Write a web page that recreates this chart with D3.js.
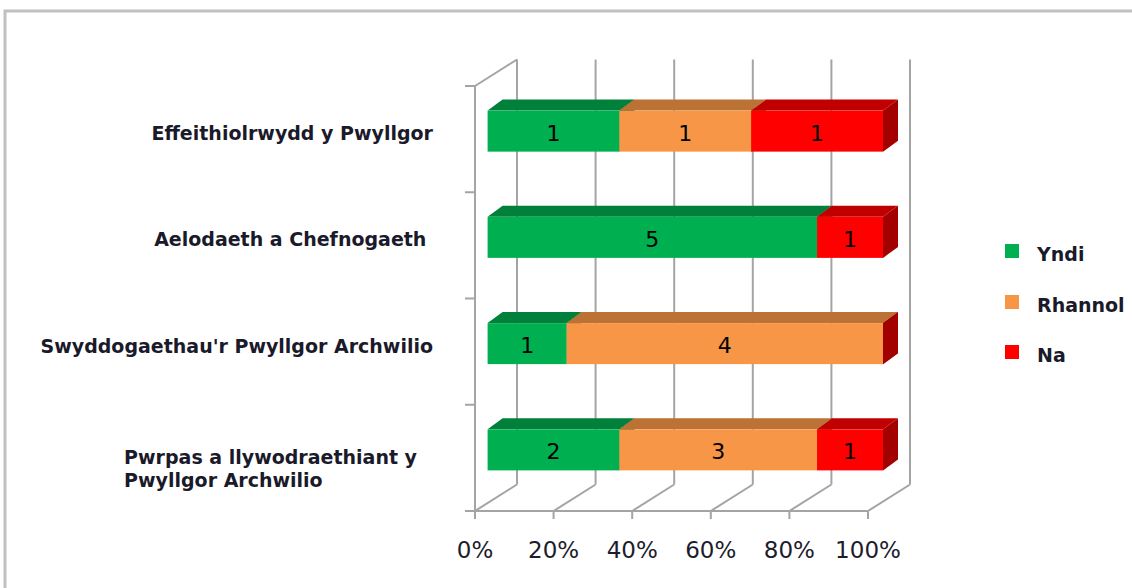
<!DOCTYPE html>
<html>
<head>
<meta charset="utf-8">
<script src="https://cdn.jsdelivr.net/npm/d3@7"></script>
<style>
  html, body { margin: 0; padding: 0; background: #fff; }
  svg { display: block; font-family: "DejaVu Sans", Verdana, sans-serif; }
</style>
</head>
<body>
<div id="chart"></div>
<script>
// Categories, top to bottom (each entry is the list of label lines)
const categories = [
  ["Effeithiolrwydd y Pwyllgor"],
  ["Aelodaeth a Chefnogaeth "],
  ["Swyddogaethau'r Pwyllgor Archwilio"],
  ["Pwrpas a llywodraethiant y", "Pwyllgor Archwilio"]
];
const seriesNames = ["Yndi", "Rhannol", "Na"];
const yndi = [1, 5, 1, 2];
const rhannol = [1, 0, 4, 3];
const na = [1, 1, 0, 1];
const tickValues = [0, 0.2, 0.4, 0.6, 0.8, 1];

const W = 1132, H = 588;

// colours: front, top, side
const colFront = ["#00B050", "#F79646", "#FF0000"];
const colTop = ["#00803A", "#BC7235", "#C00000"];
const colSide = ["#006A2F", "#A4602A", "#A30000"];

const svg = d3.select("#chart").append("svg")
  .attr("width", W).attr("height", H);

// chart frame
svg.append("rect")
  .attr("x", 5).attr("y", 11)
  .attr("width", W + 40).attr("height", H + 40)
  .attr("fill", "#fff")
  .attr("stroke", "#C0C0C0").attr("stroke-width", 3);

// 3D frame geometry
const floorY = 511, wallTop = 86;
const depth = { dx: 42, dy: -26.5 };
const x = d3.scaleLinear().domain([0, 1]).range([475, 868]);
const keys = categories.map((c, i) => i);
const y = d3.scaleBand().domain(keys).range([wallTop, floorY])
  .paddingInner(0.614).paddingOuter(0.307);

// bars sit a little back from the front plane
const barShift = { dx: 12.6, dy: -8 };
const barX = d3.scaleLinear().domain([0, 1]).range([475 + barShift.dx, 883]);
const barDepth = { dx: 15, dy: -11 };

const gridColor = "#A4A4A4";
const grid = svg.append("g").attr("stroke", gridColor).attr("stroke-width", 2).attr("fill", "none");

// back wall verticals and floor depth lines
tickValues.forEach(t => {
  const fx = x(t);
  const bx = fx + depth.dx;
  grid.append("line").attr("x1", bx).attr("y1", wallTop + depth.dy).attr("x2", bx).attr("y2", floorY + depth.dy);
  grid.append("line").attr("x1", fx).attr("y1", floorY).attr("x2", bx).attr("y2", floorY + depth.dy);
  // tick under the floor edge
  grid.append("line").attr("x1", fx).attr("y1", floorY).attr("x2", fx).attr("y2", floorY + 8);
});
// floor front edge
grid.append("line").attr("x1", x(0)).attr("y1", floorY).attr("x2", x(1)).attr("y2", floorY);
// left wall
grid.append("line").attr("x1", x(0)).attr("y1", wallTop).attr("x2", x(0)).attr("y2", floorY);
grid.append("line").attr("x1", x(0)).attr("y1", wallTop).attr("x2", x(0) + depth.dx).attr("y2", wallTop + depth.dy);
// category ticks on the left wall
const step = y.step();
d3.range(categories.length + 1).forEach(i => {
  const ty = wallTop + i * step;
  grid.append("line").attr("x1", x(0) - 10).attr("y1", ty).attr("x2", x(0)).attr("y2", ty);
});

// x tick labels
svg.append("g").selectAll("text").data(tickValues).join("text")
  .attr("x", d => x(d)).attr("y", 550)
  .attr("text-anchor", "middle").attr("dominant-baseline", "central")
  .attr("font-size", 23).attr("fill", "#1c1c2c")
  .text(d => d3.format(".0%")(d));

// stacked bars
const rows = keys.map(i => {
  const vals = [yndi[i], rhannol[i], na[i]];
  const total = d3.sum(vals);
  let acc = 0;
  return vals.map((v, s) => {
    const seg = { row: i, s, v, x0: acc / total, x1: (acc + v) / total };
    acc += v;
    return seg;
  });
});

const bars = svg.append("g");
rows.forEach(segs => {
  segs.forEach(seg => {
    const x0 = barX(seg.x0), x1 = barX(seg.x1);
    const top = y(seg.row) + barShift.dy, bot = top + y.bandwidth();
    const g = bars.append("g");
    // right face
    g.append("path")
      .attr("d", `M${x1},${top}L${x1 + barDepth.dx},${top + barDepth.dy}L${x1 + barDepth.dx},${bot + barDepth.dy}L${x1},${bot}Z`)
      .attr("fill", colSide[seg.s]);
    if (seg.v > 0) {
      // top face
      g.append("path")
        .attr("d", `M${x0},${top}L${x0 + barDepth.dx},${top + barDepth.dy}L${x1 + barDepth.dx},${top + barDepth.dy}L${x1},${top}Z`)
        .attr("fill", colTop[seg.s]);
      // front face
      g.append("rect")
        .attr("x", x0).attr("y", top)
        .attr("width", x1 - x0).attr("height", y.bandwidth())
        .attr("fill", colFront[seg.s]);
    }
  });
});

// data labels
svg.append("g").selectAll("text")
  .data(rows.flat().filter(d => d.v > 0)).join("text")
  .attr("x", d => (barX(d.x0) + barX(d.x1)) / 2)
  .attr("y", d => y(d.row) + barShift.dy + y.bandwidth() / 2 + 2)
  .attr("text-anchor", "middle").attr("dominant-baseline", "central")
  .attr("font-size", 22).attr("fill", "#000")
  .text(d => d.v);

// category labels
const catG = svg.append("g").attr("font-weight", "bold").attr("font-size", 19).attr("fill", "#1a1a2a");
categories.forEach((lines, i) => {
  const cy = y(i) + barShift.dy + y.bandwidth() / 2 + 2;
  if (lines.length === 1) {
    catG.append("text")
      .attr("x", 433).attr("y", cy)
      .attr("text-anchor", "end").attr("dominant-baseline", "central")
      .style("white-space", "pre")
      .text(lines[0]);
  } else {
    const t = catG.append("text").attr("dominant-baseline", "central");
    lines.forEach((ln, k) => {
      t.append("tspan").attr("y", cy + 5 + k * 23).text(ln);
    });
    const maxW = d3.max(t.selectAll("tspan").nodes(), n => n.getComputedTextLength());
    t.selectAll("tspan").attr("x", 417 - maxW);
  }
});

// legend
const legend = svg.append("g");
const legendY = [251, 302, 352];
seriesNames.forEach((name, s) => {
  legend.append("rect")
    .attr("x", 1005).attr("y", legendY[s] - 7)
    .attr("width", 14).attr("height", 14)
    .attr("fill", colFront[s]);
  legend.append("text")
    .attr("x", 1037).attr("y", legendY[s] + 3)
    .attr("dominant-baseline", "central")
    .attr("font-weight", "bold").attr("font-size", 19).attr("fill", "#1a1a2a")
    .text(name);
});
</script>
</body>
</html>
